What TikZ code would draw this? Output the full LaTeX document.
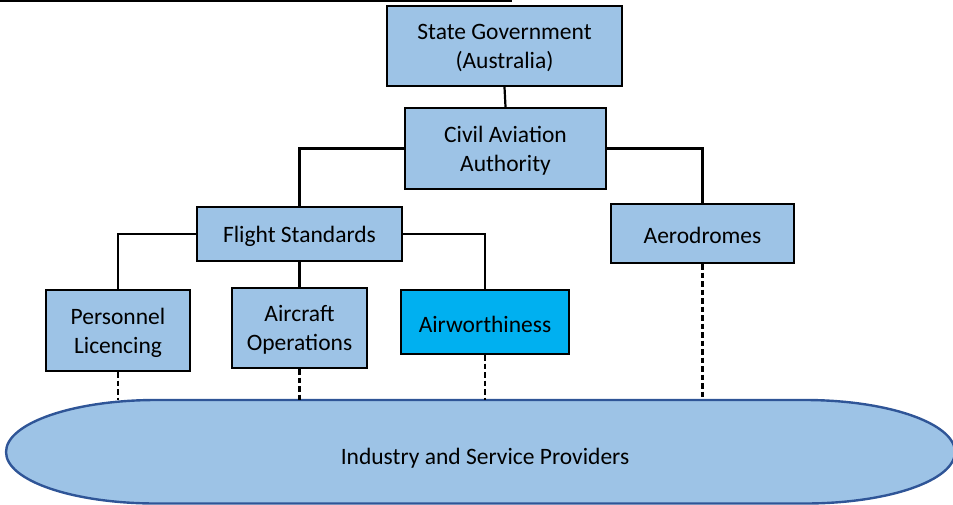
\documentclass[tikz,border=0pt]{standalone}
\usepackage{fontspec}
\setmainfont{Carlito}
\begin{document}
\definecolor{boxblue}{HTML}{9DC3E6}
\definecolor{brightblue}{HTML}{00B0F0}
\definecolor{edgeblue}{HTML}{2F5597}
\tikzset{
  unit/.style={draw=black, line width=2.3pt, fill=boxblue, inner sep=0pt},
  boxtext/.style={align=center, font=\fontsize{23.5}{29}\selectfont, yshift=-2pt},
  link/.style={line width=2.2pt},
  droplink/.style={line width=2.1pt, dash pattern=on 5.5pt off 3pt},
}
\begin{tikzpicture}[x=1pt, y=-1pt]
\useasboundingbox (0,0) rectangle (953,504);

% rule across the top
\coordinate (ruleL) at (0,1);
\coordinate (ruleR) at (512,1);
\draw[line width=1.8pt] (ruleL) -- (ruleR);

% organisation units
\node[unit, minimum width=235pt, minimum height=80pt,
  label={[boxtext]center:{State Government\\(Australia)}}] (sg) at (504.5,46) {};
\node[unit, minimum width=201pt, minimum height=81pt,
  label={[boxtext]center:{Civil Aviation\\Authority}}] (caa) at (505.5,148.5) {};
\node[unit, minimum width=205pt, minimum height=54pt,
  label={[boxtext]center:{Flight Standards}}] (fs) at (299.5,234) {};
\node[unit, minimum width=183pt, minimum height=59pt,
  label={[boxtext]center:{Aerodromes}}] (aero) at (702.5,233.5) {};
\node[unit, minimum width=144pt, minimum height=81pt,
  label={[boxtext]center:{Personnel\\Licencing}}] (pl) at (118,330.5) {};
\node[unit, minimum width=135pt, minimum height=80pt,
  label={[boxtext]center:{Aircraft\\Operations}}] (ao) at (299.5,328) {};
\node[unit, fill=brightblue, minimum width=168pt, minimum height=64pt,
  label={[boxtext]center:{Airworthiness}}] (aw) at (485,322) {};

% industry band
\fill[boxblue, draw=edgeblue, line width=2.4pt]
  (156,400) -- (805,400)
  .. controls (887.8,400) and (955,423.3) .. (955,452)
  .. controls (955,480.7) and (887.8,503.5) .. (805,503.5)
  -- (156,503.5)
  .. controls (73.2,503.5) and (6,480.7) .. (6,452)
  .. controls (6,423.3) and (73.2,400) .. (156,400) -- cycle;
\coordinate (isptop) at (480,400);
\node[boxtext, yshift=0pt] (isp) at (485,456) {Industry and Service Providers};

% reporting lines
\draw[link] (sg.south) -- (caa.north);
\draw[link] (caa.west) -| (fs.north);
\draw[link] (caa.east) -| (aero.north);
\draw[link] (fs.west) -| (pl.north);
\draw[link] (fs.south) -- (ao.north);
\draw[link] (fs.east) -| (aw.north);

% oversight of industry
\draw[droplink] (pl.south) -- (pl.south |- isptop);
\draw[droplink] (ao.south) -- (ao.south |- isptop);
\draw[droplink] (aw.south) -- (aw.south |- isptop);
\draw[droplink] (aero.south) -- (aero.south |- isptop);
\end{tikzpicture}
\end{document}
